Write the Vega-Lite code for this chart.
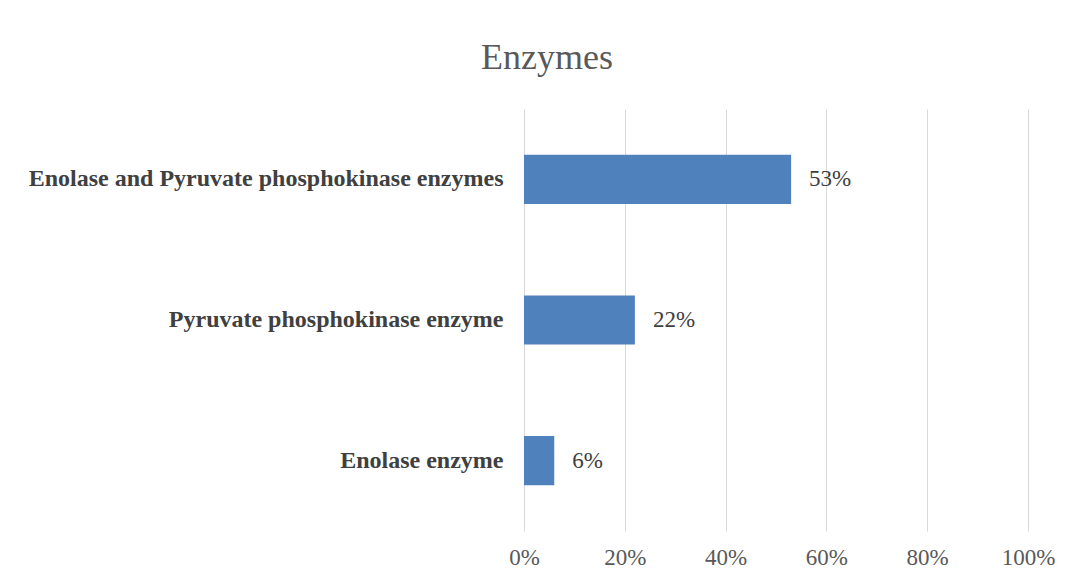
{
  "$schema": "https://vega.github.io/schema/vega-lite/v6.json",
  "width": 504,
  "height": 422,
  "autosize": {"type": "none"},
  "padding": {"left": 524, "top": 109, "right": 44, "bottom": 50},
  "background": "white",
  "title": {
    "text": "Enzymes",
    "font": "Liberation Serif",
    "fontSize": 36,
    "fontWeight": "normal",
    "color": "#595959",
    "anchor": "middle",
    "frame": "group",
    "dx": -229,
    "offset": 32
  },
  "data": {
    "values": [
      {"enzyme": "Enolase and Pyruvate phosphokinase enzymes", "value": 0.53, "label": "53%"},
      {"enzyme": "Pyruvate phosphokinase enzyme", "value": 0.22, "label": "22%"},
      {"enzyme": "Enolase enzyme", "value": 0.06, "label": "6%"}
    ]
  },
  "encoding": {
    "y": {
      "field": "enzyme",
      "type": "nominal",
      "sort": null,
      "scale": {"paddingInner": 0.65, "paddingOuter": 0.325},
      "axis": {
        "title": null,
        "ticks": false,
        "domain": false,
        "labelFont": "Liberation Serif",
        "labelFontWeight": "bold",
        "labelFontSize": 24,
        "labelColor": "#404040",
        "labelPadding": 21,
        "labelLimit": 600
      }
    },
    "x": {
      "field": "value",
      "type": "quantitative",
      "scale": {"domain": [0, 1], "nice": false},
      "axis": {
        "title": null,
        "format": ".0%",
        "values": [0, 0.2, 0.4, 0.6, 0.8, 1],
        "ticks": false,
        "domain": false,
        "grid": true,
        "gridColor": "#d9d9d9",
        "gridWidth": 1,
        "labelFlush": false,
        "labelFont": "Liberation Serif",
        "labelFontSize": 23,
        "labelColor": "#595959",
        "labelPadding": 15
      }
    }
  },
  "layer": [
    {"mark": {"type": "bar", "color": "#4f81bd"}},
    {
      "mark": {"type": "text", "align": "left", "dx": 18, "font": "Liberation Serif", "fontSize": 23, "color": "#404040"},
      "encoding": {"text": {"field": "label"}}
    }
  ],
  "config": {"view": {"stroke": null}}
}
